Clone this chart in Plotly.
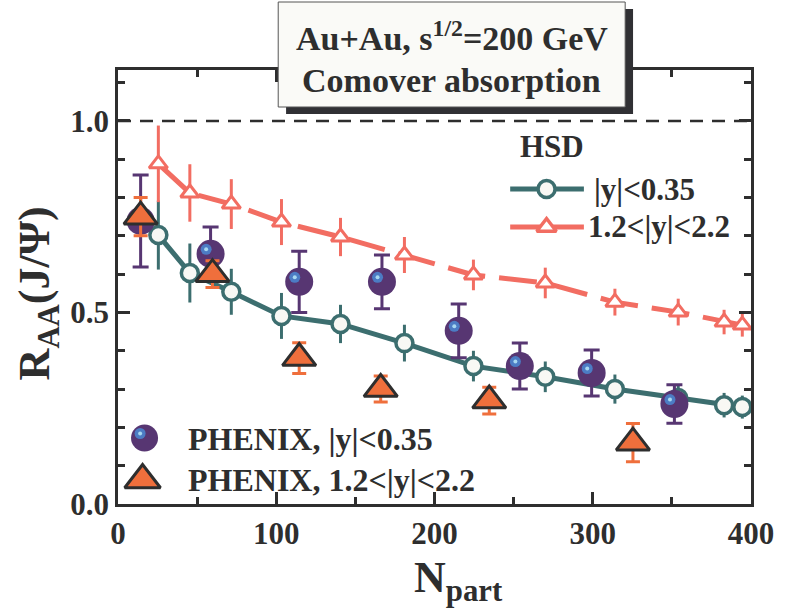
import plotly.graph_objects as go

# ---------------- data ----------------
# HSD comover absorption, mid-rapidity |y|<0.35
hsd_mid_npart = [25.5, 45.4, 71.6, 103.3, 140.6, 181.0, 224.6, 270.0, 314.0, 354.0, 383.0, 394.5]
hsd_mid_raa = [0.702, 0.603, 0.554, 0.491, 0.470, 0.420, 0.360, 0.332, 0.300, 0.277, 0.258, 0.253]
hsd_mid_err = [0.09, 0.077, 0.06, 0.06, 0.05, 0.048, 0.04, 0.04, 0.038, 0.035, 0.032, 0.03]

# HSD comover absorption, forward 1.2<|y|<2.2
hsd_fwd_npart = [25.5, 45.4, 71.6, 103.3, 140.6, 181.0, 224.6, 270.0, 314.0, 354.0, 383.0, 394.5]
hsd_fwd_raa = [0.888, 0.812, 0.783, 0.736, 0.697, 0.650, 0.598, 0.577, 0.527, 0.501, 0.475, 0.467]
hsd_fwd_err = [0.10, 0.075, 0.065, 0.06, 0.05, 0.047, 0.04, 0.04, 0.035, 0.035, 0.032, 0.03]

# PHENIX |y|<0.35
phx_mid_npart = [14.3, 58.5, 114.5, 166.8, 215.3, 253.9, 299.3, 351.6]
phx_mid_raa = [0.739, 0.653, 0.580, 0.580, 0.452, 0.360, 0.342, 0.261]
phx_mid_err = [0.12, 0.07, 0.08, 0.07, 0.07, 0.06, 0.06, 0.05]

# PHENIX 1.2<|y|<2.2
phx_fwd_npart = [14.3, 59.7, 114.5, 166.0, 234.6, 325.4]
phx_fwd_raa = [0.75, 0.60, 0.381, 0.30, 0.27, 0.16]
phx_fwd_err = [0.05, 0.035, 0.04, 0.034, 0.035, 0.05]

x_tickvals = [0, 100, 200, 300, 400]
x_ticktext = ["0", "100", "200", "300", "400"]
y_tickvals = [0.0, 0.5, 1.0]
y_ticktext = ["0.0", "0.5", "1.0"]

# ---------------- styles ----------------
W, H = 786, 613
ML, MR, MT, MB = 118, 24, 70, 109
PW, PH = W - ML - MR, H - MT - MB

TEAL = "#3c6e6f"
RED = "#f26d62"
PURPLE = "#573672"
BLUE = "#4c7cc4"
LIGHT = "#a8d8f0"
ORANGE = "#ef6f3c"
INK = "#2e2e2e"
FONT = "Liberation Serif"

X_RANGE = [0, 400]
Y_RANGE = [0, 1.133]


def px_x(px):
    return (px - ML) / PW


def px_y(py):
    return (H - MB - py) / PH


# highlight offsets on the spheres (in data units, about 4.5 px up-left)
dx_hl = -4.5 * (X_RANGE[1] - X_RANGE[0]) / PW
dy_hl = 4.5 * (Y_RANGE[1] - Y_RANGE[0]) / PH

fig = go.Figure()

fig.add_trace(go.Scatter(
    x=hsd_mid_npart, y=hsd_mid_raa, mode="lines+markers",
    line=dict(color=TEAL, width=5),
    marker=dict(symbol="circle", size=17, color="#f8f8f4", line=dict(color=TEAL, width=3.5)),
    error_y=dict(type="data", array=hsd_mid_err, color=TEAL, thickness=3, width=0),
    showlegend=False,
))
fig.add_trace(go.Scatter(
    x=hsd_fwd_npart, y=hsd_fwd_raa, mode="lines+markers",
    line=dict(color=RED, width=5, dash="38px,14px"),
    marker=dict(symbol="triangle-up", size=16, color="white", line=dict(color=RED, width=3)),
    error_y=dict(type="data", array=hsd_fwd_err, color=RED, thickness=3, width=0),
    showlegend=False,
))
fig.add_trace(go.Scatter(
    x=phx_mid_npart, y=phx_mid_raa, mode="markers",
    marker=dict(symbol="circle", size=28, color=PURPLE),
    error_y=dict(type="data", array=phx_mid_err, color=PURPLE, thickness=3, width=8),
    showlegend=False,
))
fig.add_trace(go.Scatter(
    x=[v + dx_hl for v in phx_mid_npart], y=[v + dy_hl for v in phx_mid_raa], mode="markers",
    marker=dict(symbol="circle", size=11, color=BLUE), hoverinfo="skip", showlegend=False,
))
fig.add_trace(go.Scatter(
    x=[v + dx_hl for v in phx_mid_npart], y=[v + dy_hl for v in phx_mid_raa], mode="markers",
    marker=dict(symbol="circle", size=4, color=LIGHT), hoverinfo="skip", showlegend=False,
))
fig.add_trace(go.Scatter(
    x=phx_fwd_npart, y=phx_fwd_raa, mode="markers",
    marker=dict(symbol="triangle-up", size=29, color=ORANGE, line=dict(color=INK, width=3)),
    error_y=dict(type="data", array=phx_fwd_err, color=ORANGE, thickness=3, width=7),
    showlegend=False,
))

# ---------------- legend glyphs (on a pixel-unit overlay axis) ----------------
def lx(px):
    return px - ML


def ly(py):
    return H - MB - py


fig.add_trace(go.Scatter(
    x=[lx(517), lx(592)], y=[ly(189), ly(189)], mode="lines",
    line=dict(color=TEAL, width=5), xaxis="x2", yaxis="y2", showlegend=False, hoverinfo="skip"))
fig.add_trace(go.Scatter(
    x=[lx(554)], y=[ly(189)], mode="markers",
    marker=dict(symbol="circle", size=17, color="#f8f8f4", line=dict(color=TEAL, width=3.5)),
    xaxis="x2", yaxis="y2", showlegend=False, hoverinfo="skip"))
fig.add_trace(go.Scatter(
    x=[lx(517), lx(592)], y=[ly(227), ly(227)], mode="lines",
    line=dict(color=RED, width=5), xaxis="x2", yaxis="y2", showlegend=False, hoverinfo="skip"))
fig.add_trace(go.Scatter(
    x=[lx(554)], y=[ly(227)], mode="markers",
    marker=dict(symbol="triangle-up", size=17, color="white", line=dict(color=RED, width=3.5)),
    xaxis="x2", yaxis="y2", showlegend=False, hoverinfo="skip"))
fig.add_trace(go.Scatter(
    x=[lx(145)], y=[ly(438)], mode="markers",
    marker=dict(symbol="circle", size=27, color=PURPLE),
    xaxis="x2", yaxis="y2", showlegend=False, hoverinfo="skip"))
fig.add_trace(go.Scatter(
    x=[lx(140.5)], y=[ly(433.5)], mode="markers",
    marker=dict(symbol="circle", size=11, color=BLUE),
    xaxis="x2", yaxis="y2", showlegend=False, hoverinfo="skip"))
fig.add_trace(go.Scatter(
    x=[lx(140.5)], y=[ly(433.5)], mode="markers",
    marker=dict(symbol="circle", size=4, color=LIGHT),
    xaxis="x2", yaxis="y2", showlegend=False, hoverinfo="skip"))
fig.add_trace(go.Scatter(
    x=[lx(143)], y=[ly(480)], mode="markers",
    marker=dict(symbol="triangle-up", size=31, color=ORANGE, line=dict(color=INK, width=3)),
    xaxis="x2", yaxis="y2", showlegend=False, hoverinfo="skip"))

axis_common = dict(
    showline=True, linecolor=INK, linewidth=2.5, mirror="ticks",
    ticks="inside", tickcolor=INK, tickwidth=2.5, ticklen=12,
    showgrid=False, zeroline=False,
    tickfont=dict(family=FONT, size=31, color=INK, weight="bold"),
)

fig.update_layout(
    width=W, height=H,
    margin=dict(l=ML, r=MR, t=MT, b=MB, pad=0),
    paper_bgcolor="white", plot_bgcolor="white",
    xaxis=dict(range=X_RANGE, tickmode="array", tickvals=x_tickvals, ticktext=x_ticktext,
               minor=dict(dtick=50, tick0=0, ticks="inside", ticklen=7, tickwidth=2.5, tickcolor=INK),
               **axis_common),
    yaxis=dict(range=Y_RANGE, tickmode="array", tickvals=y_tickvals, ticktext=y_ticktext,
               minor=dict(dtick=0.1, tick0=0, ticks="inside", ticklen=7, tickwidth=2.5, tickcolor=INK),
               **axis_common),
    xaxis2=dict(range=[0, PW], overlaying="x", visible=False, fixedrange=True),
    yaxis2=dict(range=[0, PH], overlaying="y", visible=False, fixedrange=True),
    showlegend=False,
)

# dashed reference line at R_AA = 1
fig.add_shape(type="line", xref="paper", yref="y", x0=0, x1=1, y0=1.0, y1=1.0,
              line=dict(color=INK, width=2.5, dash="13px,9px"), layer="below")

# title box with shadow
fig.add_shape(type="rect", xref="paper", yref="paper",
              x0=px_x(289), x1=px_x(642), y0=px_y(114), y1=px_y(9),
              fillcolor="#303034", line=dict(width=0), layer="above")
fig.add_shape(type="rect", xref="paper", yref="paper",
              x0=px_x(281), x1=px_x(634), y0=px_y(107), y1=px_y(2),
              fillcolor="#fafaf7", line=dict(color="#555", width=1), layer="above")

def txt(text, x, y, size, xanchor="center", yanchor="middle", angle=0):
    fig.add_annotation(text=text, xref="paper", yref="paper", x=x, y=y,
                       xanchor=xanchor, yanchor=yanchor, showarrow=False, textangle=angle,
                       font=dict(family=FONT, size=size, color=INK, weight="bold"))

txt("Au+Au, s<sup>1/2</sup>=200 GeV", px_x(457.5), px_y(36), 34)
txt("Comover absorption", px_x(457.5), px_y(80), 34)
txt("HSD", px_x(560), px_y(146), 31)
txt("|y|<0.35", px_x(600), px_y(189), 31, xanchor="left")
txt("1.2<|y|<2.2", px_x(594), px_y(226), 31, xanchor="left")
txt("PHENIX, |y|<0.35", px_x(187), px_y(439), 32, xanchor="left")
txt("PHENIX, 1.2<|y|<2.2", px_x(187), px_y(480), 32, xanchor="left")
txt("N<sub>part</sub>", px_x(464), px_y(580), 44)
txt("R<sub>AA</sub>(J/Ψ)", px_x(36), px_y(293), 44, angle=-90)

fig.write_html("out.html")
